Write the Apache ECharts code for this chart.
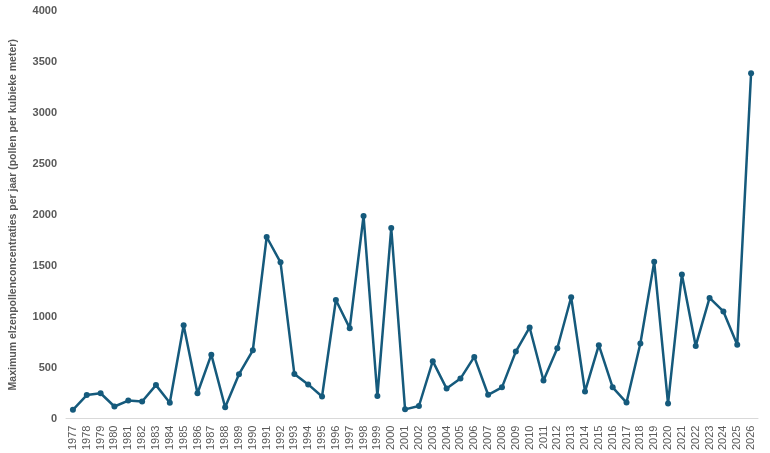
<!DOCTYPE html>
<html>
<head>
<meta charset="utf-8">
<script src="https://cdn.jsdelivr.net/npm/echarts@6/dist/echarts.min.js"></script>
<style>html,body{margin:0;padding:0;background:#fff;}#chart{width:770px;height:453px;}</style>
</head>
<body>
<div id="chart"></div>
<script>
const years = ['1977','1978','1979','1980','1981','1982','1983','1984','1985','1986','1987','1988','1989','1990','1991','1992','1993','1994','1995','1996','1997','1998','1999','2000','2001','2002','2003','2004','2005','2006','2007','2008','2009','2010','2011','2012','2013','2014','2015','2016','2017','2018','2019','2020','2021','2022','2023','2024','2025','2026'];
const maxConcentration = [85,230,248,118,176,167,328,155,915,248,627,111,435,670,1782,1533,438,335,216,1163,887,1988,222,1870,90,123,563,294,392,605,233,306,657,894,373,690,1190,265,720,306,157,737,1538,147,1414,713,1184,1051,725,3390];
const yTicks = [0,500,1000,1500,2000,2500,3000,3500,4000];
const yTitle = 'Maximum elzenpollenconcentraties per jaar (pollen per kubieke meter)';

const chart = echarts.init(document.getElementById('chart'));
chart.setOption({
  animation: false,
  grid: {left: 64, right: 12, top: 11, bottom: 34},
  xAxis: {
    type: 'category',
    data: years,
    boundaryGap: true,
    axisLine: {lineStyle: {color: '#d9d9d9', width: 1}},
    axisTick: {show: false},
    axisLabel: {rotate: 90, interval: 0, color: '#595959', fontSize: 11, fontFamily: 'Liberation Sans, Arial', margin: 7}
  },
  yAxis: {
    type: 'value',
    min: yTicks[0],
    max: yTicks[yTicks.length - 1],
    interval: 500,
    name: yTitle,
    nameLocation: 'middle',
    nameGap: 47,
    nameTextStyle: {color: '#595959', fontSize: 10.5, fontWeight: 'bold', fontFamily: 'Liberation Sans, Arial'},
    axisLine: {show: false},
    axisTick: {show: false},
    splitLine: {show: false},
    axisLabel: {color: '#595959', fontSize: 11, fontWeight: 'bold', fontFamily: 'Liberation Sans, Arial', margin: 9,
      formatter: function (v) { return String(v); }}
  },
  series: [{
    type: 'line',
    data: maxConcentration,
    symbol: 'circle',
    symbolSize: 6,
    lineStyle: {color: '#155a7c', width: 2.5},
    itemStyle: {color: '#155a7c'}
  }]
});
</script>
</body>
</html>
